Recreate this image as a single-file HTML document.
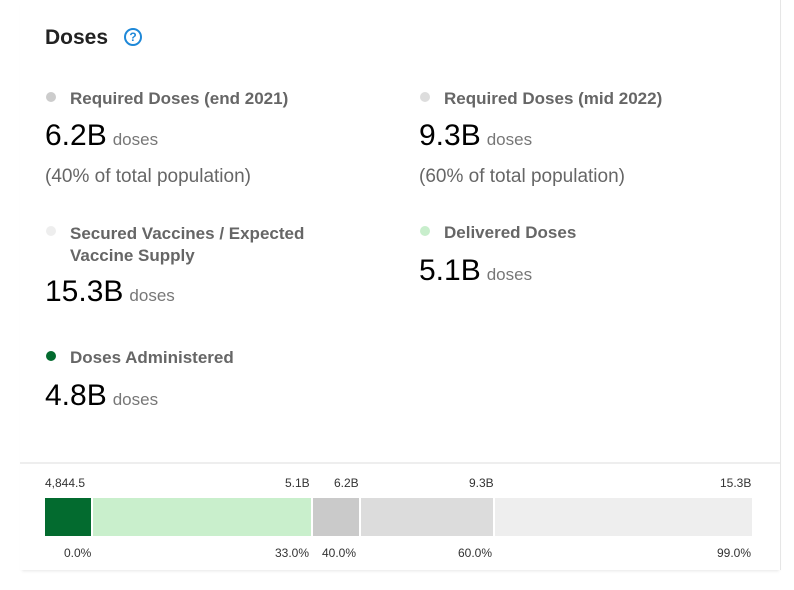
<!DOCTYPE html>
<html><head><style>
body{margin:0;width:794px;height:590px;background:#fff;font-family:"Liberation Sans",sans-serif;position:relative;overflow:hidden}
.card{position:absolute;left:20px;top:0;width:760px;height:570px;border-right:1px solid #e6e6e6;box-shadow:0 3px 3px -2px rgba(0,0,0,0.1)}
.a{position:absolute;white-space:nowrap}
.t{font-size:21px;font-weight:bold;color:#222}
.lab{font-size:17px;font-weight:bold;color:#666}
.big{font-size:30px;color:#000}
.big span{font-size:17px;color:#777;margin-left:6px}
.sub{font-size:19px;color:#666}
.dot{position:absolute;width:10px;height:10px;border-radius:50%}
.s{font-size:12px;color:#333}
.seg{position:absolute;top:498px;height:38px}
</style></head><body>
<div class="card"></div>
<div class="a t" style="left:45px;top:26px">Doses</div>
<div class="a" style="left:124px;top:28px;width:18px;height:18px;border:2px solid #1e88d8;border-radius:50%;box-sizing:border-box;color:#1e88d8;font-size:12px;font-weight:bold;text-align:center;line-height:14px">?</div>

<div class="dot" style="left:46px;top:92px;background:#ccc"></div>
<div class="a lab" style="left:70px;top:89px">Required Doses (end 2021)</div>
<div class="a big" style="left:45px;top:119px">6.2B<span>doses</span></div>
<div class="a sub" style="left:45px;top:166px">(40% of total population)</div>

<div class="dot" style="left:420px;top:92px;background:#ddd"></div>
<div class="a lab" style="left:444px;top:89px">Required Doses (mid 2022)</div>
<div class="a big" style="left:419px;top:119px">9.3B<span>doses</span></div>
<div class="a sub" style="left:419px;top:166px">(60% of total population)</div>

<div class="dot" style="left:46px;top:226px;background:#eee"></div>
<div class="a lab" style="left:70px;top:223px;line-height:22px">Secured Vaccines / Expected<br>Vaccine Supply</div>
<div class="a big" style="left:45px;top:275px">15.3B<span>doses</span></div>

<div class="dot" style="left:420px;top:226px;background:#c8eecc"></div>
<div class="a lab" style="left:444px;top:223px">Delivered Doses</div>
<div class="a big" style="left:419px;top:254px">5.1B<span>doses</span></div>

<div class="dot" style="left:46px;top:351px;background:#036b2f"></div>
<div class="a lab" style="left:70px;top:348px">Doses Administered</div>
<div class="a big" style="left:45px;top:379px">4.8B<span>doses</span></div>

<div class="a" style="left:20px;top:462px;width:760px;height:2px;background:#eee"></div>

<div class="a s" style="left:45px;top:476px">4,844.5</div>
<div class="a s" style="left:285px;top:476px">5.1B</div>
<div class="a s" style="left:334px;top:476px">6.2B</div>
<div class="a s" style="left:469px;top:476px">9.3B</div>
<div class="a s" style="left:720px;top:476px">15.3B</div>

<div class="seg" style="left:45px;width:46px;background:#036b2f"></div>
<div class="seg" style="left:93px;width:218px;background:#c9efcc"></div>
<div class="seg" style="left:313px;width:46px;background:#cacaca"></div>
<div class="seg" style="left:361px;width:132px;background:#dcdcdc"></div>
<div class="seg" style="left:495px;width:257px;background:#eeeeee"></div>

<div class="a s" style="left:64px;top:546px">0.0%</div>
<div class="a s" style="left:275px;top:546px">33.0%</div>
<div class="a s" style="left:322px;top:546px">40.0%</div>
<div class="a s" style="left:458px;top:546px">60.0%</div>
<div class="a s" style="left:717px;top:546px">99.0%</div>
</body></html>
